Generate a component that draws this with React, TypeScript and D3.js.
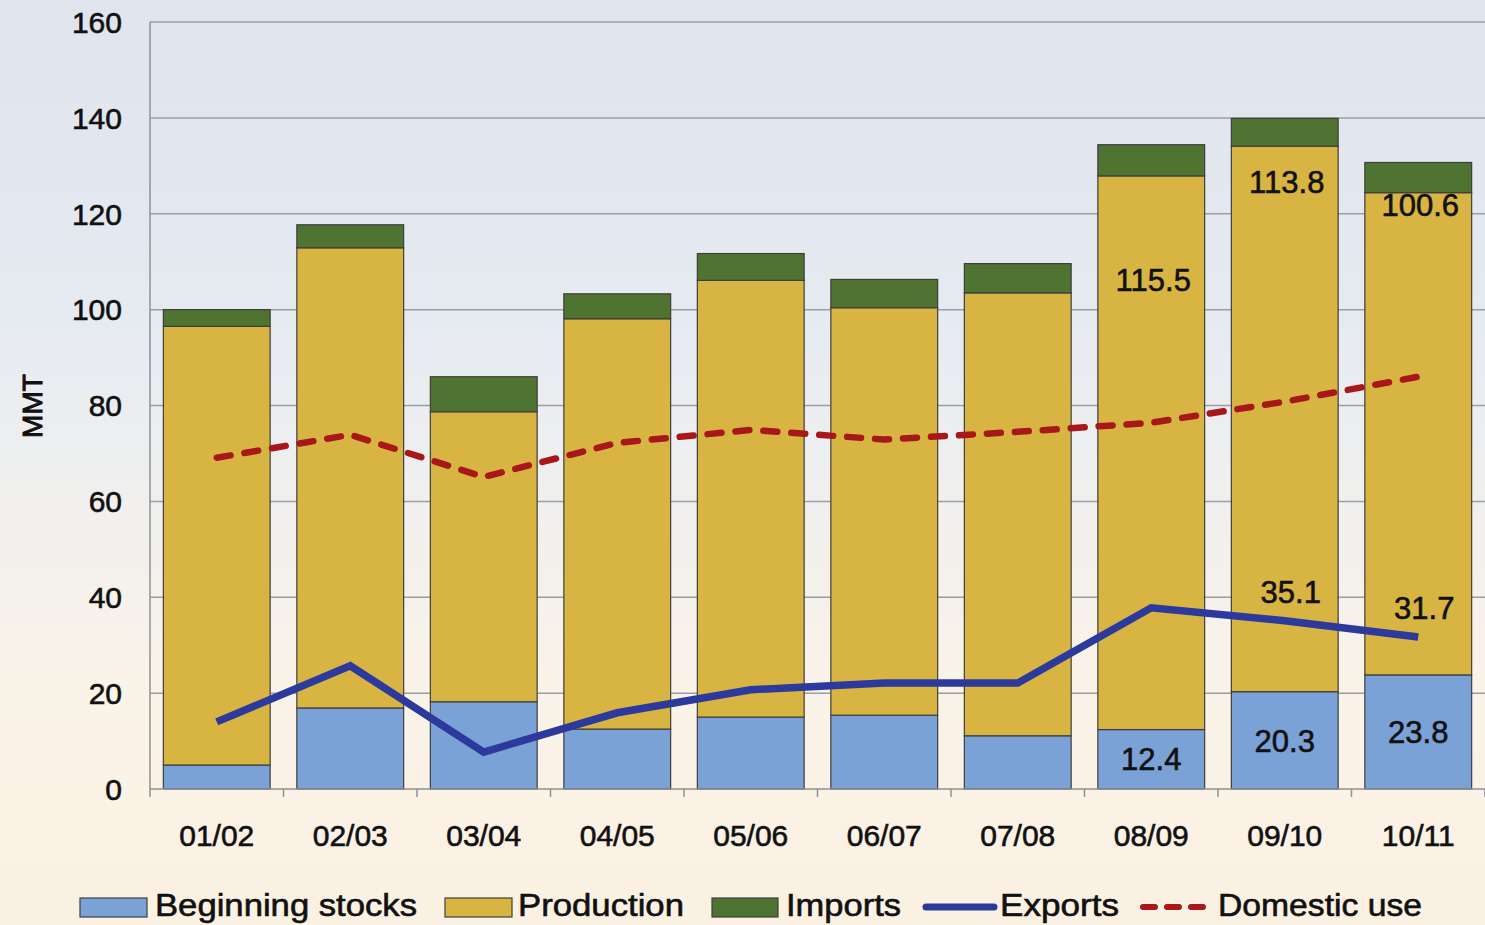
import React from 'react';
import * as d3 from 'd3';

const years = ['01/02', '02/03', '03/04', '04/05', '05/06', '06/07', '07/08', '08/09', '09/10', '10/11'];
const beginningStocks = [5.0, 16.9, 18.2, 12.5, 15.0, 15.4, 11.1, 12.4, 20.3, 23.8];
const production = [91.5, 96.0, 60.5, 85.6, 91.1, 85.0, 92.4, 115.5, 113.8, 100.6];
const imports = [3.5, 4.8, 7.3, 5.2, 5.6, 5.9, 6.1, 6.5, 5.8, 6.3];
const exportsSeries = [14.0, 25.7, 7.7, 15.9, 20.7, 22.1, 22.1, 37.8, 35.1, 31.7];
const domesticUse = [69.1, 73.9, 65.1, 72.2, 74.9, 72.9, 74.5, 76.4, 80.8, 86.0];
const yTicks = [0, 20, 40, 60, 80, 100, 120, 140, 160];

// which bars carry printed values
const stockLabels = ['08/09', '09/10', '10/11'];
const prodLabels = [
  { year: '08/09', at: 106.3 },
  { year: '09/10', at: 126.7 },
  { year: '10/11', at: 121.9 },
];
const exportLabels = ['09/10', '10/11'];

const colors = {
  stocks: '#7aa2d6',
  production: '#d8b443',
  imports: '#4f7330',
  exports: '#2b3a9c',
  domestic: '#a8171a',
};

export default function App() {
  const W = 1485;
  const H = 925;
  const left = 150;
  const right = 1485;
  const top = 22;
  const bottom = 789;

  const x = d3.scaleBand().domain(years).range([left, right]).paddingInner(0.2).paddingOuter(0.1);
  const y = d3.scaleLinear().domain([0, 160]).range([bottom, top]);

  const keys = ['stocks', 'production', 'imports'];
  const rows = years.map((yr, i) => ({
    year: yr,
    stocks: beginningStocks[i],
    production: production[i],
    imports: imports[i],
  }));
  const stacked = d3.stack<any>().keys(keys)(rows);

  const cx = (yr: string) => (x(yr) as number) + x.bandwidth() / 2;
  const line = d3.line<number>().x((_, i) => cx(years[i])).y((d) => y(d));

  const step = x.step();
  const boundaries = d3.range(years.length + 1).map((i) => left + i * step);

  const font = 'Liberation Sans, Arial, sans-serif';
  // text in the original is a bit heavier than plain regular
  const txt = { fill: '#111', stroke: '#111', strokeWidth: 0.6 };

  return (
    <svg width={W} height={H} style={{ position: 'fixed', left: 0, top: 0, display: 'block' }} fontFamily={font}>
      <defs>
        <linearGradient id="bg" x1="0" y1="0" x2="0" y2="1">
          <stop offset="0" stopColor="#dfe4ed" />
          <stop offset="0.35" stopColor="#e6ebf2" />
          <stop offset="0.55" stopColor="#f1f0ee" />
          <stop offset="0.75" stopColor="#faf3e8" />
          <stop offset="1" stopColor="#fbf1e2" />
        </linearGradient>
      </defs>
      <rect width={W} height={H} fill="url(#bg)" />

      {/* gridlines */}
      {yTicks.filter((t) => t > 0).map((t) => (
        <line key={t} x1={left} x2={right} y1={y(t)} y2={y(t)} stroke="#9c9ea3" strokeWidth={1.5} />
      ))}

      {/* bars */}
      {stacked.map((s) => (
        <g key={s.key} fill={(colors as any)[s.key]}>
          {s.map((d: any) => (
            <rect
              key={d.data.year}
              x={x(d.data.year)}
              y={y(d[1])}
              width={x.bandwidth()}
              height={y(d[0]) - y(d[1])}
              stroke="#3e3e3e"
              strokeWidth={1.2}
            />
          ))}
        </g>
      ))}

      {/* axes */}
      <line x1={left} x2={left} y1={top} y2={bottom} stroke="#8e9096" strokeWidth={1.5} />
      <line x1={left} x2={right} y1={bottom} y2={bottom} stroke="#8e9096" strokeWidth={1.5} />
      {boundaries.map((b, i) => (
        <line key={i} x1={b} x2={b} y1={bottom} y2={bottom + 8} stroke="#8e9096" strokeWidth={1.5} />
      ))}
      {yTicks.map((t) => (
        <text key={t} x={122} y={y(t)} dy="0.36em" textAnchor="end" fontSize={30} {...txt}>
          {t}
        </text>
      ))}
      {years.map((yr) => (
        <text key={yr} x={cx(yr)} y={846} textAnchor="middle" fontSize={30} {...txt}>
          {yr}
        </text>
      ))}
      <text transform={`translate(42,${406}) rotate(-90)`} textAnchor="middle" fontSize={28} {...txt} strokeWidth={1}>
        MMT
      </text>

      {/* lines */}
      <path d={line(domesticUse) || ''} fill="none" stroke={colors.domestic} strokeWidth={6.5} strokeDasharray="14 14" strokeLinecap="round" />
      <path d={line(exportsSeries) || ''} fill="none" stroke={colors.exports} strokeWidth={7.5} strokeLinejoin="miter" />

      {/* value labels */}
      {stockLabels.map((yr) => {
        const i = years.indexOf(yr);
        return (
          <text key={'s' + yr} x={cx(yr)} y={y(beginningStocks[i] / 2)} dy="0.36em" textAnchor="middle" fontSize={31} {...txt}>
            {beginningStocks[i].toFixed(1)}
          </text>
        );
      })}
      {prodLabels.map((p) => {
        const i = years.indexOf(p.year);
        return (
          <text key={'p' + p.year} x={cx(p.year) + 2} y={y(p.at)} dy="0.36em" textAnchor="middle" fontSize={31} {...txt}>
            {production[i].toFixed(1)}
          </text>
        );
      })}
      {exportLabels.map((yr) => {
        const i = years.indexOf(yr);
        return (
          <text key={'e' + yr} x={cx(yr) + 6} y={y(exportsSeries[i] + 6)} dy="0.36em" textAnchor="middle" fontSize={31} {...txt}>
            {exportsSeries[i].toFixed(1)}
          </text>
        );
      })}

      {/* legend */}
      <g fontSize={31} {...txt}>
        <rect x={80} y={898} width={67} height={19} fill={colors.stocks} stroke="#3e3e3e" strokeWidth={1.2} />
        <text x={155} y={916} textLength={262} lengthAdjust="spacingAndGlyphs">Beginning stocks</text>
        <rect x={445} y={898} width={67} height={19} fill={colors.production} stroke="#3e3e3e" strokeWidth={1.2} />
        <text x={518} y={916} textLength={166} lengthAdjust="spacingAndGlyphs">Production</text>
        <rect x={712} y={898} width={66} height={19} fill={colors.imports} stroke="#3e3e3e" strokeWidth={1.2} />
        <text x={786} y={916} textLength={115} lengthAdjust="spacingAndGlyphs">Imports</text>
        <line x1={926} x2={994} y1={907} y2={907} stroke={colors.exports} strokeWidth={7} strokeLinecap="round" />
        <text x={1000} y={916} textLength={119} lengthAdjust="spacingAndGlyphs">Exports</text>
        <line x1={1143} x2={1212} y1={907} y2={907} stroke={colors.domestic} strokeWidth={6} strokeDasharray="12 12" strokeLinecap="round" />
        <text x={1218} y={916} textLength={204} lengthAdjust="spacingAndGlyphs">Domestic use</text>
      </g>
    </svg>
  );
}
